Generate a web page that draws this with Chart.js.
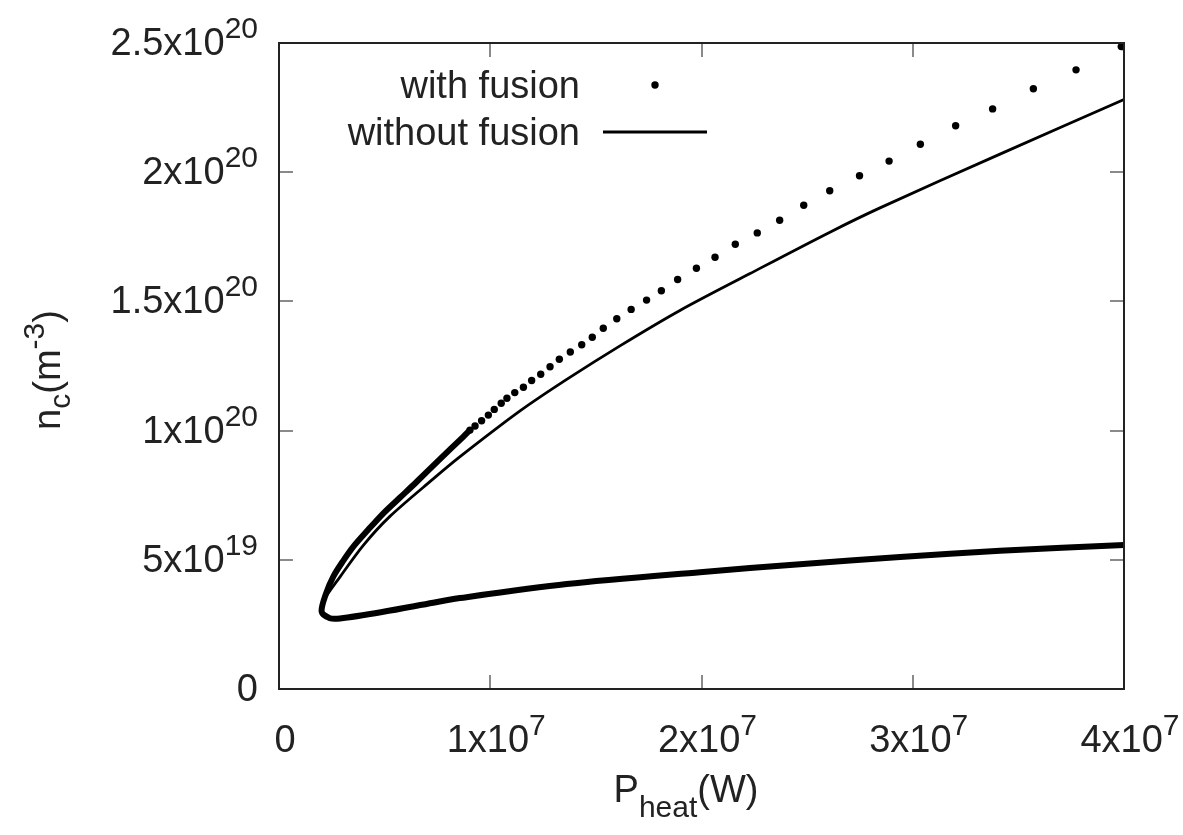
<!DOCTYPE html>
<html>
<head>
<meta charset="utf-8">
<script src="https://cdn.jsdelivr.net/npm/chart.js@4.4.1/dist/chart.umd.min.js"></script>
<style>
  html, body { margin: 0; padding: 0; background: #fff; }
  #wrap { width: 1183px; height: 835px; }
</style>
</head>
<body>
<div id="wrap"><canvas id="chart" width="1183" height="835"></canvas></div>
<script>
// units used in the arrays below
const P_UNIT = 1e6;   // W
const N_UNIT = 1e18;  // m^-3

// axis ticks
const xTickValues = [0, 1e7, 2e7, 3e7, 4e7];
const xTickLabels = ['0', '1x10^7', '2x10^7', '3x10^7', '4x10^7'];
const yTickValues = [0, 5e19, 1e20, 1.5e20, 2e20, 2.5e20];
const yTickLabels = ['0', '5x10^19', '1x10^20', '1.5x10^20', '2x10^20', '2.5x10^20'];

// with fusion: separate dots on the upper branch [P (MW), n (1e18 m^-3)]
const withFusionDots = [
  [39.87, 248.6], [37.73, 239.6], [35.71, 232.3], [33.78, 224.5], [32.03, 218.0],
  [30.36, 210.8], [28.88, 204.3], [27.48, 198.6], [26.07, 192.8], [24.84, 187.2],
  [23.70, 181.4], [22.64, 176.5], [21.60, 172.1], [20.64, 167.1], [19.76, 162.8],
  [18.87, 158.5], [18.10, 154.1], [17.40, 150.5], [16.67, 146.9], [15.99, 143.3],
  [15.35, 139.6], [14.83, 136.1], [14.33, 133.2], [13.79, 130.4], [13.27, 127.6],
  [12.83, 124.7], [12.39, 121.8], [11.96, 119.4], [11.57, 116.8], [11.16, 114.7],
  [10.79, 112.5], [10.52, 110.6], [10.19, 108.2], [9.91, 106.0], [9.59, 103.8],
  [9.28, 101.8], [9.04, 100.2]
];

// with fusion: where the dots are so close they merge into a band
const withFusionBand = [
  [9.04, 100.2], [8.72, 97.6], [7.57, 88.6], [6.52, 80.2], [5.73, 74.1],
  [4.94, 68.0], [4.21, 61.5], [3.52, 55.1], [3.03, 49.5], [2.57, 43.5],
  [2.22, 36.8], [2.02, 29.9], [2.41, 27.4], [2.89, 27.3], [4.94, 29.9],
  [7.30, 33.4], [8.57, 35.2], [13.62, 40.6], [19.93, 45.2], [24.66, 48.3],
  [29.40, 51.1], [34.13, 53.5], [40.0, 55.7]
];

// without fusion: continuous curve
const withoutFusion = [
  [40.0, 228.1], [34.13, 207.0], [28.45, 186.2], [26.08, 176.8], [22.30, 160.8],
  [19.00, 146.6], [16.14, 132.8], [13.62, 119.8], [11.41, 107.6], [8.57, 89.9],
  [7.30, 81.3], [5.25, 66.8], [3.99, 55.6], [2.89, 43.4], [2.13, 34.4],
  [2.02, 29.9], [2.41, 27.4], [2.89, 27.3], [4.94, 29.9], [7.30, 33.4],
  [8.57, 35.2], [13.62, 40.6], [19.93, 45.2], [24.66, 48.3], [29.40, 51.1],
  [34.13, 53.5], [40.0, 55.7]
];

const FONT = "'Liberation Sans', Arial, sans-serif";
const MAIN_SIZE = 38;
const SUP_SIZE = 30;

function toXY(pairs) {
  return pairs.map(p => ({ x: p[0] * P_UNIT, y: p[1] * N_UNIT }));
}

// draw a run of text pieces; each piece {t, size, dy}
function drawPieces(ctx, pieces, x, y, align) {
  let total = 0;
  pieces.forEach(p => {
    ctx.font = p.size + 'px ' + FONT;
    p.w = ctx.measureText(p.t).width;
    total += p.w;
  });
  let cx = x;
  if (align === 'center') cx = x - total / 2;
  if (align === 'right') cx = x - total;
  ctx.textAlign = 'left';
  ctx.textBaseline = 'alphabetic';
  pieces.forEach(p => {
    ctx.font = p.size + 'px ' + FONT;
    ctx.fillText(p.t, cx, y + (p.dy || 0));
    cx += p.w;
  });
}

// "2x10^20" -> main part + superscript
function tickPieces(label) {
  const parts = label.split('^');
  const pieces = [{ t: parts[0], size: MAIN_SIZE, dy: 0 }];
  if (parts[1]) pieces.push({ t: parts[1], size: SUP_SIZE, dy: -17 });
  return pieces;
}

const framePlugin = {
  id: 'gnuFrame',
  afterDatasetsDraw(chart) {
    const ctx = chart.ctx;
    const a = chart.chartArea;
    const xs = chart.scales.x, ys = chart.scales.y;
    const tl = 14;
    ctx.save();
    ctx.strokeStyle = '#8a8a8a';
    ctx.lineWidth = 2;
    ctx.beginPath();
    xTickValues.forEach(v => {
      const px = Math.round(xs.getPixelForValue(v));
      ctx.moveTo(px, a.bottom); ctx.lineTo(px, a.bottom - tl);
      ctx.moveTo(px, a.top); ctx.lineTo(px, a.top + tl);
    });
    yTickValues.forEach(v => {
      const py = Math.round(ys.getPixelForValue(v));
      ctx.moveTo(a.left, py); ctx.lineTo(a.left + tl, py);
      ctx.moveTo(a.right, py); ctx.lineTo(a.right - tl, py);
    });
    ctx.stroke();
    ctx.strokeStyle = '#222';
    ctx.lineWidth = 2;
    ctx.strokeRect(a.left, a.top, a.right - a.left, a.bottom - a.top);
    ctx.restore();
  },
  afterDraw(chart) {
    const ctx = chart.ctx;
    const a = chart.chartArea;
    const xs = chart.scales.x, ys = chart.scales.y;
    ctx.save();
    ctx.fillStyle = '#222';

    // tick labels
    xTickValues.forEach((v, i) => {
      drawPieces(ctx, tickPieces(xTickLabels[i]), xs.getPixelForValue(v) + 6, a.bottom + 63, 'center');
    });
    yTickValues.forEach((v, i) => {
      drawPieces(ctx, tickPieces(yTickLabels[i]), a.left - 21, ys.getPixelForValue(v) + 12, 'right');
    });

    // axis titles
    drawPieces(ctx, [
      { t: 'P', size: MAIN_SIZE, dy: 0 },
      { t: 'heat', size: SUP_SIZE, dy: 15 },
      { t: '(W)', size: MAIN_SIZE, dy: 0 }
    ], a.left + 407, a.bottom + 113, 'center');

    ctx.save();
    ctx.translate(60, 370);
    ctx.rotate(-Math.PI / 2);
    drawPieces(ctx, [
      { t: 'n', size: MAIN_SIZE, dy: 0 },
      { t: 'c', size: SUP_SIZE, dy: 10 },
      { t: '(m', size: MAIN_SIZE, dy: 0 },
      { t: '-3', size: SUP_SIZE, dy: -16 },
      { t: ')', size: MAIN_SIZE, dy: 0 }
    ], 0, 0, 'center');
    ctx.restore();

    // legend, gnuplot style: text right aligned, sample on the right
    const textRight = a.left + 301;
    const sampleX = a.left + 376;
    const rows = [
      { ds: chart.data.datasets[0], y: a.top + 42, kind: 'dot' },
      { ds: chart.data.datasets[2], y: a.top + 89, kind: 'line' }
    ];
    rows.forEach(r => {
      ctx.fillStyle = '#222';
      drawPieces(ctx, [{ t: r.ds.label, size: MAIN_SIZE, dy: 0 }], textRight, r.y + 13, 'right');
      if (r.kind === 'dot') {
        ctx.fillStyle = r.ds.pointBackgroundColor;
        ctx.beginPath();
        ctx.arc(sampleX, r.y, r.ds.pointRadius, 0, Math.PI * 2);
        ctx.fill();
      } else {
        ctx.strokeStyle = r.ds.borderColor;
        ctx.lineWidth = r.ds.borderWidth;
        ctx.beginPath();
        ctx.moveTo(sampleX - 52, r.y);
        ctx.lineTo(sampleX + 52, r.y);
        ctx.stroke();
      }
    });
    ctx.restore();
  }
};

const ctx = document.getElementById('chart').getContext('2d');
new Chart(ctx, {
  type: 'scatter',
  data: {
    datasets: [
      {
        label: 'with fusion',
        data: toXY(withFusionDots),
        showLine: false,
        pointRadius: 3.7,
        pointBackgroundColor: '#000',
        pointBorderWidth: 0
      },
      {
        label: 'with fusion band',
        data: toXY(withFusionBand),
        showLine: true,
        borderColor: '#000',
        borderWidth: 6,
        tension: 0.3,
        pointRadius: 0,
        borderCapStyle: 'round',
        borderJoinStyle: 'round'
      },
      {
        label: 'without fusion',
        data: toXY(withoutFusion),
        showLine: true,
        borderColor: '#000',
        borderWidth: 2.8,
        tension: 0.3,
        pointRadius: 0
      }
    ]
  },
  options: {
    responsive: false,
    animation: false,
    layout: { padding: { left: 279, right: 59, top: 43, bottom: 146 } },
    plugins: { legend: { display: false }, tooltip: { enabled: false } },
    scales: {
      x: { type: 'linear', min: 0, max: 4e7, display: false },
      y: { type: 'linear', min: 0, max: 2.5e20, display: false }
    }
  },
  plugins: [framePlugin]
});
</script>
</body>
</html>
